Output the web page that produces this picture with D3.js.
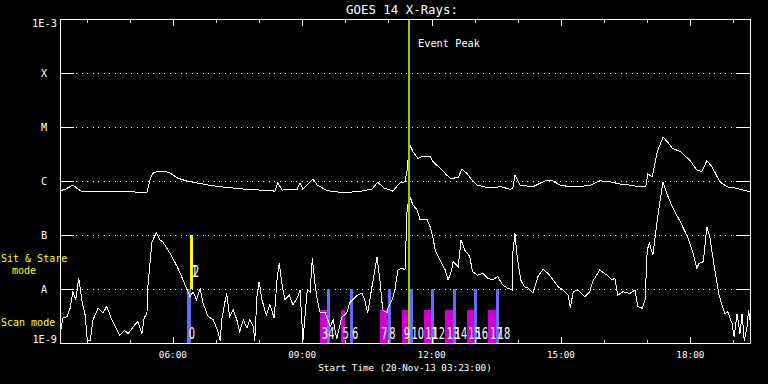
<!DOCTYPE html>
<html>
<head>
<meta charset="utf-8">
<script src="https://cdn.jsdelivr.net/npm/d3@7"></script>
<style>
  body { margin: 0; background: #000; }
  svg { display: block; }
  text { fill: #fff; font-family: "DejaVu Sans Mono", monospace; }
</style>
</head>
<body>
<script>
// GOES 14 X-ray flux for 20-Nov-13
const day = "2013-11-20";
const startTime = "03:23";
const endTime = "19:23";
const peakTime = "11:29";

// 1-8 A channel (upper curve), [time, W/m^2]
const longSeries = [
  ["03:23", 6.6e-7], ["03:31", 7.1e-7], ["03:41", 8.4e-7], ["03:48", 7.1e-7], ["03:54", 6.3e-7],
  ["04:19", 6.3e-7], ["04:47", 6.4e-7], ["05:14", 6.2e-7], ["05:24", 6.2e-7], ["05:28", 1.04e-6],
  ["05:32", 1.39e-6], ["05:39", 1.5e-6], ["05:49", 1.5e-6], ["05:56", 1.41e-6], ["06:06", 1.14e-6],
  ["06:17", 1.02e-6], ["06:28", 9.5e-7], ["06:52", 8.3e-7], ["07:15", 7.6e-7], ["07:38", 7.1e-7],
  ["08:01", 6.8e-7], ["08:22", 6.5e-7], ["08:26", 9.2e-7], ["08:32", 6.8e-7], ["08:47", 7.0e-7],
  ["08:53", 7.1e-7], ["08:57", 9.2e-7], ["09:01", 7.0e-7], ["09:15", 1.08e-6], ["09:21", 8.4e-7],
  ["09:35", 6.6e-7], ["09:57", 6.1e-7], ["10:20", 6.4e-7], ["10:37", 7.1e-7], ["10:45", 9.5e-7],
  ["10:54", 7.4e-7], ["11:06", 6.5e-7], ["11:16", 9.2e-7], ["11:23", 9.7e-7], ["11:26", 1.6e-6],
  ["11:29", 4.4e-6], ["11:30", 4.6e-6], ["11:34", 3.5e-6], ["11:41", 2.63e-6], ["11:48", 2.9e-6],
  ["11:58", 2.82e-6], ["12:02", 2.28e-6], ["12:12", 1.72e-6], ["12:21", 1.29e-6], ["12:26", 1.12e-6],
  ["12:37", 1.15e-6], ["12:42", 1.65e-6], ["12:49", 1.39e-6], ["12:56", 1.04e-6], ["13:03", 8.4e-7],
  ["13:17", 7.6e-7], ["13:31", 7.6e-7], ["13:35", 8.0e-7], ["13:49", 7.0e-7], ["13:53", 7.3e-7],
  ["13:56", 1.29e-6], ["14:03", 8.4e-7], ["14:21", 7.8e-7], ["14:31", 9.1e-7], ["14:41", 1.04e-6],
  ["14:48", 1.01e-6], ["14:59", 8.4e-7], ["15:13", 7.8e-7], ["15:27", 8.0e-7], ["15:40", 8.2e-7],
  ["15:54", 1.01e-6], ["16:08", 9.7e-7], ["16:22", 8.8e-7], ["16:36", 8.4e-7], ["16:50", 7.8e-7],
  ["16:58", 8.0e-7], ["17:01", 1.35e-6], ["17:07", 1.2e-6], ["17:14", 3.5e-6], ["17:22", 6.45e-6],
  ["17:28", 5.35e-6], ["17:35", 4.04e-6], ["17:46", 3.5e-6], ["17:59", 2.45e-6], ["18:09", 1.6e-6],
  ["18:16", 1.49e-6], ["18:23", 2.38e-6], ["18:30", 1.84e-6], ["18:41", 9.7e-7], ["18:51", 7.8e-7],
  ["19:05", 7.3e-7], ["19:23", 6.3e-7]
];

// 0.5-4 A channel (lower curve), [time, W/m^2]
const shortSeries = [
  ["03:24", 1.7e-9], ["03:27", 2.9e-9], ["03:33", 3.1e-9], ["03:37", 4.4e-9], ["03:41", 8.9e-9],
  ["03:45", 6.3e-9], ["03:49", 1.6e-8], ["03:54", 5.5e-9], ["03:58", 3.3e-9], ["04:01", 1.1e-9],
  ["04:05", 1.1e-9], ["04:09", 2.7e-9], ["04:16", 4.4e-9], ["04:23", 3.6e-9], ["04:28", 4.8e-9],
  ["04:35", 2.7e-9], ["04:40", 2.0e-9], ["04:46", 1.4e-9], ["04:53", 1.7e-9], ["04:58", 1.5e-9],
  ["05:05", 2.0e-9], ["05:11", 2.5e-9], ["05:17", 1.5e-9], ["05:20", 2.9e-9], ["05:24", 3.6e-9],
  ["05:25", 1.04e-8], ["05:31", 7.5e-8], ["05:37", 1.1e-7], ["05:42", 8.1e-8], ["05:46", 7.5e-8],
  ["05:56", 4.6e-8], ["06:06", 2.6e-8], ["06:14", 1.5e-8], ["06:20", 9.6e-9], ["06:24", 7.2e-9],
  ["06:28", 8.9e-9], ["06:33", 6.3e-9], ["06:38", 1.03e-8], ["06:42", 5.5e-9], ["06:49", 3.1e-9],
  ["06:56", 2.7e-9], ["07:03", 1.6e-9], ["07:06", 1.1e-9], ["07:08", 2.7e-9], ["07:13", 6.3e-9],
  ["07:15", 8.3e-9], ["07:19", 3.1e-9], ["07:24", 4.1e-9], ["07:29", 2.7e-9], ["07:33", 1.6e-9],
  ["07:38", 2.7e-9], ["07:43", 1.9e-9], ["07:47", 2.7e-9], ["07:52", 2.0e-9], ["07:54", 1.1e-9],
  ["07:57", 7.2e-9], ["08:00", 1.37e-8], ["08:04", 6.3e-9], ["08:10", 3.3e-9], ["08:15", 5.1e-9],
  ["08:21", 2.9e-9], ["08:25", 1.5e-8], ["08:28", 3.0e-8], ["08:32", 1.19e-8], ["08:36", 6.3e-9],
  ["08:42", 7.7e-9], ["08:47", 5.1e-9], ["08:53", 6.8e-9], ["08:57", 9.6e-9], ["09:01", 1.1e-9],
  ["09:07", 9.6e-9], ["09:11", 8.8e-9], ["09:14", 3.7e-8], ["09:18", 1.19e-8], ["09:21", 6.3e-9],
  ["09:25", 3.6e-9], ["09:32", 3.6e-9], ["09:39", 2.0e-9], ["09:43", 2.7e-9], ["09:48", 1.2e-9],
  ["09:55", 3.0e-9], ["10:02", 3.6e-9], ["10:06", 5.5e-9], ["10:10", 6.3e-9], ["10:17", 7.7e-9],
  ["10:23", 8.4e-9], ["10:27", 6.3e-9], ["10:31", 3.6e-9], ["10:37", 1.09e-8], ["10:44", 3.9e-8],
  ["10:48", 1.5e-8], ["10:52", 4.1e-9], ["10:58", 3.6e-9], ["10:59", 4.4e-9], ["11:05", 6.3e-9],
  ["11:09", 9.6e-9], ["11:13", 2.25e-8], ["11:19", 2.45e-8], ["11:23", 2.25e-8], ["11:26", 3.2e-7],
  ["11:30", 5.1e-7], ["11:34", 3.6e-7], ["11:40", 2.9e-7], ["11:44", 1.9e-7], ["11:48", 1.95e-7],
  ["11:54", 1.9e-7], ["11:58", 1.42e-7], ["12:02", 8.7e-8], ["12:05", 5.3e-8], ["12:09", 4.0e-8],
  ["12:14", 3.0e-8], ["12:19", 2.25e-8], ["12:23", 1.47e-8], ["12:28", 2.25e-8], ["12:30", 3.2e-8],
  ["12:37", 2.6e-8], ["12:41", 8.1e-8], ["12:46", 5.3e-8], ["12:53", 4.0e-8], ["12:57", 2.1e-8],
  ["13:04", 1.8e-8], ["13:11", 1.95e-8], ["13:18", 1.58e-8], ["13:25", 1.47e-8], ["13:32", 1.7e-8],
  ["13:39", 1.19e-8], ["13:46", 1.03e-8], ["13:52", 9.6e-9], ["13:53", 4.6e-8], ["13:56", 1.07e-7],
  ["13:59", 4.0e-8], ["14:04", 1.47e-8], ["14:09", 1.1e-8], ["14:14", 1.04e-8], ["14:21", 8.4e-9],
  ["14:28", 1.7e-8], ["14:35", 2.3e-8], ["14:42", 1.95e-8], ["14:49", 1.47e-8], ["14:56", 1.1e-8],
  ["15:03", 9.6e-9], ["15:10", 7.7e-9], ["15:13", 4.4e-9], ["15:17", 8.9e-9], ["15:24", 9.6e-9],
  ["15:33", 7.2e-9], ["15:40", 8.9e-9], ["15:44", 1.37e-8], ["15:54", 2.25e-8], ["16:04", 1.8e-8],
  ["16:11", 1.47e-8], ["16:15", 1.58e-8], ["16:19", 7.7e-9], ["16:26", 8.9e-9], ["16:36", 8.3e-9],
  ["16:43", 9.6e-9], ["16:47", 4.7e-9], ["16:53", 4.4e-9], ["16:57", 6.3e-9], ["17:00", 5.3e-8],
  ["17:03", 7.0e-8], ["17:08", 4.3e-8], ["17:14", 1.9e-7], ["17:18", 4.45e-7], ["17:22", 9.7e-7],
  ["17:28", 5.5e-7], ["17:36", 3.1e-7], ["17:46", 1.76e-7], ["17:56", 9.3e-8], ["18:04", 4.6e-8],
  ["18:09", 2.4e-8], ["18:12", 3.0e-8], ["18:18", 3.2e-8], ["18:23", 1.42e-7], ["18:27", 9.3e-8],
  ["18:34", 2.25e-8], ["18:40", 7.7e-9], ["18:44", 5.1e-9], ["18:48", 3.5e-9], ["18:52", 3.8e-9],
  ["18:58", 2.3e-9], ["19:01", 1.3e-9], ["19:05", 3.5e-9], ["19:09", 1.5e-9], ["19:12", 3.5e-9],
  ["19:15", 1.1e-9], ["19:19", 2.0e-9], ["19:21", 4.1e-9], ["19:23", 2.7e-9]
];

// flare class levels
const levelFlux = [1e-4, 1e-5, 1e-6, 1e-7, 1e-8];
const levelLabel = ["X", "M", "C", "B", "A"];

// observation events (numbered)
const eventLabel = ["0", "1", "2", "3", "4", "5", "6", "7", "8", "9",
  "10", "11", "12", "13", "14", "15", "16", "17", "18"];
const eventMode = ["scan", "stare", "stare", "raster", "scan", "raster", "scan", "raster", "scan", "raster",
  "scan", "raster", "scan", "raster", "scan", "raster", "scan", "raster", "scan"];
const eventStart = ["06:20", "06:24", "06:26", "09:25", "09:34", "09:54", "10:07", "10:48", "10:59", "11:19",
  "11:30", "11:49", "11:59", "12:19", "12:30", "12:49", "12:59", "13:19", "13:30"];
const eventEnd = ["06:25", "06:28", "06:28", "09:34", "09:38", "10:00", "10:10", "10:59", "11:03", "11:27",
  "11:34", "11:59", "12:03", "12:30", "12:34", "12:59", "13:03", "13:30", "13:34"];

const modeColor = { scan: "#6868ff", stare: "#ffff00", raster: "#cc00cc" };
const modeTop = { scan: 1e-8, stare: 1e-7, raster: 4e-9 };
const modeBottom = { scan: 1e-9, stare: 1e-8, raster: 1e-9 };

const parseTime = d3.utcParse("%Y-%m-%d %H:%M");
const t = (s) => parseTime(`${day} ${s}`);

const width = 768;
const height = 384;
const margin = { top: 19, right: 18, bottom: 41, left: 60 };
const plotLeft = margin.left;
const plotRight = width - margin.right;
const plotTop = margin.top;
const plotBottom = height - margin.bottom;

const x = d3.scaleUtc().domain([t(startTime), t(endTime)]).range([plotLeft, plotRight]);
const y = d3.scaleLog().domain([1e-9, 1e-3]).range([plotBottom, plotTop]);

const svg = d3
  .select("body")
  .append("svg")
  .attr("width", width)
  .attr("height", height)
  .style("background", "#000");

// title
svg
  .append("text")
  .attr("x", 402)
  .attr("y", 14)
  .attr("text-anchor", "middle")
  .style("font-size", "12.4px")
  .text("GOES 14 X-Rays:");

// class levels: solid ticks at both sides, dotted in between
const grid = svg.append("g").attr("stroke", "#fff").attr("shape-rendering", "crispEdges");
levelFlux.forEach((f) => {
  const yy = Math.round(y(f)) + 0.5;
  grid.append("line").attr("x1", plotLeft).attr("x2", plotLeft + 14).attr("y1", yy).attr("y2", yy);
  grid.append("line").attr("x1", plotRight - 14).attr("x2", plotRight).attr("y1", yy).attr("y2", yy);
  grid
    .append("line")
    .attr("x1", plotLeft + 16)
    .attr("x2", plotRight - 15)
    .attr("y1", yy)
    .attr("y2", yy)
    .attr("stroke-dasharray", "1,4.5");
});

// level labels
svg
  .append("g")
  .style("font-size", "10.2px")
  .attr("text-anchor", "middle")
  .selectAll("text")
  .data(levelFlux)
  .join("text")
  .attr("x", 44)
  .attr("y", (d) => y(d) + 4)
  .text((d, i) => levelLabel[i]);

svg.append("text").attr("x", 57).attr("y", plotTop + 8).attr("text-anchor", "end")
  .style("font-size", "10.4px").text("1E-3");
svg.append("text").attr("x", 57).attr("y", plotBottom).attr("text-anchor", "end")
  .style("font-size", "10.2px").text("1E-9");

// mode legend on the left
const legend = svg.append("g").style("font-size", "10px");
legend.append("text").attr("x", 1).attr("y", 262).style("fill", "#ffff00").text("Sit & Stare");
legend.append("text").attr("x", 24).attr("y", 274).attr("text-anchor", "middle").style("fill", "#ffff00").text("mode");
legend.append("text").attr("x", 1).attr("y", 326).style("fill", "#ffff00").text("Scan mode");

// event bars
svg
  .append("g")
  .attr("shape-rendering", "crispEdges")
  .selectAll("rect")
  .data(eventLabel)
  .join("rect")
  .attr("x", (d, i) => x(t(eventStart[i])))
  .attr("width", (d, i) => x(t(eventEnd[i])) - x(t(eventStart[i])))
  .attr("y", (d, i) => y(modeTop[eventMode[i]]))
  .attr("height", (d, i) => y(modeBottom[eventMode[i]]) - y(modeTop[eventMode[i]]))
  .attr("fill", (d, i) => modeColor[eventMode[i]]);

// flux curves
const line = d3
  .line()
  .x((d) => x(t(d[0])))
  .y((d) => y(d[1]));

[longSeries, shortSeries].forEach((s) => {
  svg
    .append("path")
    .datum(s)
    .attr("fill", "none")
    .attr("stroke", "#fff")
    .attr("stroke-width", 1)
    .attr("shape-rendering", "crispEdges")
    .attr("d", line);
});

// event peak marker
const px = Math.round(x(t(peakTime)));
svg
  .append("line")
  .attr("x1", px)
  .attr("x2", px)
  .attr("y1", plotTop)
  .attr("y2", plotBottom)
  .attr("stroke", "#99cc00")
  .attr("stroke-width", 2);
svg.append("text").attr("x", px + 9).attr("y", 47).style("font-size", "10.3px").text("Event Peak");

// event numbers
svg
  .append("g")
  .selectAll("text")
  .data(eventLabel)
  .join("text")
  .attr("transform", (d, i) => {
    const yy = eventMode[i] === "stare" ? y(1e-8) - 12 : y(1e-9) - 4;
    return `translate(${x(t(eventStart[i])) + 1.5},${yy}) scale(0.66,1)`;
  })
  .style("font-family", "'DejaVu Sans', sans-serif")
  .style("font-size", "15px")
  .text((d) => d);

// frame
svg
  .append("rect")
  .attr("x", plotLeft + 0.5)
  .attr("y", plotTop + 0.5)
  .attr("width", plotRight - plotLeft)
  .attr("height", plotBottom - plotTop)
  .attr("fill", "none")
  .attr("stroke", "#fff")
  .attr("shape-rendering", "crispEdges");

// hourly ticks, longer every 3 hours
const hours = x.ticks(d3.utcHour.every(1));
const isMajor = (d) => d.getUTCHours() % 3 === 0;
const ticks = svg.append("g").attr("stroke", "#fff").attr("shape-rendering", "crispEdges");
ticks
  .selectAll("line.top")
  .data(hours)
  .join("line")
  .attr("x1", (d) => Math.round(x(d)) + 0.5)
  .attr("x2", (d) => Math.round(x(d)) + 0.5)
  .attr("y1", plotTop)
  .attr("y2", (d) => plotTop + (isMajor(d) ? 7 : 4));
ticks
  .selectAll("line.bottom")
  .data(hours)
  .join("line")
  .attr("x1", (d) => Math.round(x(d)) + 0.5)
  .attr("x2", (d) => Math.round(x(d)) + 0.5)
  .attr("y1", plotBottom + 1)
  .attr("y2", (d) => plotBottom + 1 - (isMajor(d) ? 7 : 4));

svg
  .append("g")
  .style("font-size", "9.3px")
  .attr("text-anchor", "middle")
  .selectAll("text")
  .data(hours.filter(isMajor))
  .join("text")
  .attr("x", (d) => x(d))
  .attr("y", 358)
  .text(d3.utcFormat("%H:%M"));

svg
  .append("text")
  .attr("x", 405)
  .attr("y", 371)
  .attr("text-anchor", "middle")
  .style("font-size", "9.3px")
  .text("Start Time (20-Nov-13 03:23:00)");
</script>
</body>
</html>
